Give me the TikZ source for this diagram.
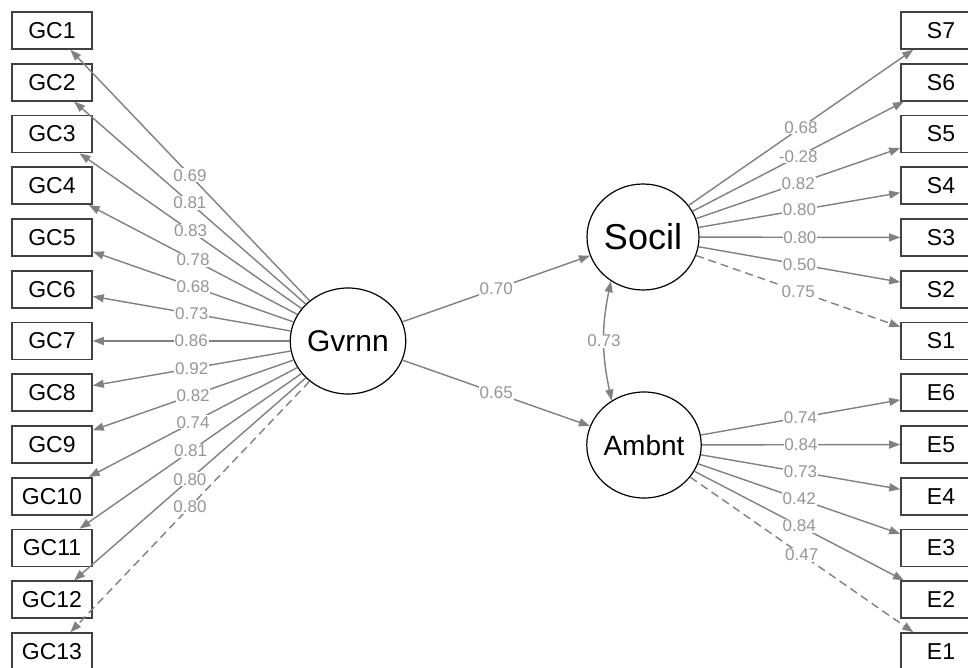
\documentclass[tikz,border=0pt]{standalone}
\usepackage{fontspec}
\setmainfont{Liberation Sans}
\usetikzlibrary{arrows.meta,shapes.geometric}
\definecolor{pathgray}{RGB}{128,128,128}
\definecolor{labgray}{RGB}{150,150,150}
\definecolor{boxgray}{RGB}{64,64,64}

\begin{document}
\begin{tikzpicture}[x=1pt,y=-1pt,
  man/.style={draw=boxgray,line width=1.6pt,fill=white,minimum width=80pt,minimum height=37pt,inner sep=0pt,font=\fontsize{23}{23}\selectfont},
  lat/.style={draw,ellipse,line width=1.2pt,fill=white,minimum width=112pt,minimum height=106pt,inner sep=0pt},
  load/.style={draw=pathgray,line width=1.4pt,-{Triangle[length=11pt,width=8pt]}},
  fixd/.style={load,dash pattern=on 8pt off 5pt},
  cov/.style={draw=pathgray,line width=1.4pt,{Triangle[length=11pt,width=8pt]}-{Triangle[length=11pt,width=8pt]}},
  lbl/.style={fill=white,inner sep=0.8pt,text=labgray,font=\fontsize{17}{17}\selectfont}]
  \useasboundingbox (0,0) rectangle (968,668);
  % Observed variables
  \foreach \i in {1,...,13}{
    \node[man] (gc\i) at (52,{30.5+(\i-1)*51.75}) {GC\i};
  }
  \foreach \i in {1,...,7}{
    \node[man] (s\i) at (941,{30.5+(7-\i)*51.75}) {S\i};
  }
  \foreach \i in {1,...,6}{
    \node[man] (e\i) at (941,{30.5+(13-\i)*51.75}) {E\i};
  }
  % Latent variables
  \node[lat,font=\fontsize{30}{30}\selectfont] (gvrnn) at (348,341) {Gvrnn};
  \node[lat,font=\fontsize{36}{36}\selectfont] (socil) at (643,237) {Socil};
  \node[lat,font=\fontsize{28}{28}\selectfont] (ambnt) at (644,445) {Ambnt};
  % Loadings
  \foreach \i/\w in {1/0.69,2/0.81,3/0.83,4/0.78,5/0.68,6/0.73,7/0.86,8/0.92,9/0.82,10/0.74,11/0.81,12/0.80}{
    \draw[load] (gvrnn) -- node[lbl]{\w} (gc\i);
  }
  \draw[fixd] (gvrnn) -- node[lbl]{0.80} (gc13);
  \foreach \i/\w in {7/0.68,6/-0.28,5/0.82,4/0.80,3/0.80,2/0.50}{
    \draw[load] (socil) -- node[lbl]{\w} (s\i);
  }
  \draw[fixd] (socil) -- node[lbl]{0.75} (s1);
  \foreach \i/\w in {6/0.74,5/0.84,4/0.73,3/0.42,2/0.84}{
    \draw[load] (ambnt) -- node[lbl]{\w} (e\i);
  }
  \draw[fixd] (ambnt) -- node[lbl]{0.47} (e1);
  % Regressions and covariance
  \draw[load] (gvrnn) -- node[lbl]{0.70} (socil);
  \draw[load] (gvrnn) -- node[lbl]{0.65} (ambnt);
  \draw[cov] (socil.234) to[bend right=12] node[lbl]{0.73} (ambnt.126);
\end{tikzpicture}
\end{document}
